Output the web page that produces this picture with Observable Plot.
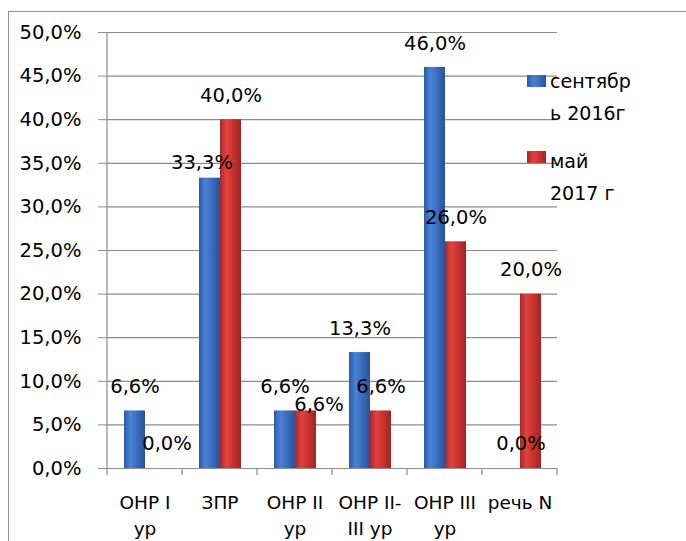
<!DOCTYPE html>
<html>
<head>
<meta charset="utf-8">
<script src="https://cdn.jsdelivr.net/npm/d3@7"></script>
<script src="https://cdn.jsdelivr.net/npm/@observablehq/plot@0.6"></script>
<style>
  html, body { margin: 0; padding: 0; background: #fff; overflow: hidden; }
  #wrap { position: relative; width: 686px; height: 541px; overflow: hidden; font-family: "DejaVu Sans", sans-serif; }
  #border { position: absolute; left: 8px; top: 11px; width: 700px; height: 560px; border: 1.5px solid #8f8f8f; box-sizing: border-box; }
  #chart { position: absolute; left: 0; top: 0; }
  .leg { position: absolute; left: 527px; font-size: 19px; line-height: 32px; color: #000; }
  .leg .sw { position: absolute; left: 0; width: 19px; height: 12px; }
  .leg .tx { position: absolute; left: 23px; white-space: nowrap; }
</style>
</head>
<body>
<div id="wrap">
  <div id="border"></div>
  <div id="chart"></div>
  <div id="legend"></div>
</div>
<script>
const categories = ["ОНР I\nур", "ЗПР", "ОНР II\nур", "ОНР II-\nIII ур", "ОНР III\nур", "речь N"];
const seriesNames = ["сентябрь 2016г", "май 2017 г"];
const sep2016 = [0.066, 0.333, 0.066, 0.133, 0.460, 0.0];
const may2017 = [0.0, 0.400, 0.066, 0.066, 0.260, 0.200];
const yTicks = [0, 0.05, 0.10, 0.15, 0.20, 0.25, 0.30, 0.35, 0.40, 0.45, 0.50];

const rows = [];
categories.forEach((c, i) => {
  rows.push({cat: c, series: seriesNames[0], value: sep2016[i]});
  rows.push({cat: c, series: seriesNames[1], value: may2017[i]});
});

const fmt = v => d3.format(".1%")(v).replace(".", ",");
const fillFor = s => s === seriesNames[0] ? "url(#gradBlue)" : "url(#gradRed)";

const isShiftRight = d => d.cat === categories[2] && d.series === seriesNames[1];
const isShiftLeft = d => d.cat === categories[1] && d.series === seriesNames[0];
const normal = rows.filter(d => d.value > 0 && !isShiftRight(d) && !isShiftLeft(d));
const zeros = rows.filter(d => d.value === 0);
const shiftedR = rows.filter(isShiftRight);
const shiftedL = rows.filter(isShiftLeft);

const FS = 19.5;
const chart = Plot.plot({
  width: 686,
  height: 541,
  marginLeft: 104,
  marginRight: 127,
  marginTop: 32,
  marginBottom: 73,
  style: {fontFamily: "DejaVu Sans, sans-serif", fontSize: FS + "px", color: "#000", background: "transparent", overflow: "visible"},
  fx: {domain: categories, padding: 0, axis: null},
  x: {domain: seriesNames, paddingInner: 0, paddingOuter: 0.72, axis: null},
  y: {domain: [0, 0.5], axis: null},
  marks: [
    Plot.gridY(yTicks, {stroke: "#8c8c8c", strokeOpacity: 1, strokeWidth: 1.2}),
    Plot.axisY({ticks: yTicks, tickSize: 9, tickPadding: 17, tickFormat: fmt, label: null, fontSize: FS, stroke: "#8c8c8c", strokeOpacity: 1, facetAnchor: "left"}),
    Plot.barY(rows, {fx: "cat", x: "series", y: "value", fill: d => fillFor(d.series)}),
    Plot.ruleY([0], {stroke: "#8c8c8c", strokeWidth: 1.2}),
    Plot.text(normal, {fx: "cat", x: "series", y: "value", text: d => fmt(d.value), dy: -24, fontSize: FS, fill: "#000"}),
    Plot.text(zeros, {fx: "cat", x: "series", y: "value", text: d => fmt(d.value), dy: -25, dx: 11, fontSize: FS, fill: "#000"}),
    Plot.text(shiftedR, {fx: "cat", x: "series", y: "value", text: d => fmt(d.value), dy: -6, dx: 13, fontSize: FS, fill: "#000"}),
    Plot.text(shiftedL, {fx: "cat", x: "series", y: "value", text: d => fmt(d.value), dy: -15, dx: -8, fontSize: FS, fill: "#000"}),
    Plot.text(categories, {fx: d => d, frameAnchor: "bottom", text: d => d, dy: 21, lineAnchor: "top", lineHeight: 1.45, fontSize: 18.5, fill: "#000"})
  ]
});

// gradients for cylinder-like bars
const svg = d3.select(chart);
const defs = svg.insert("defs", ":first-child");
function grad(id, stops) {
  const g = defs.append("linearGradient").attr("id", id).attr("x1", "0").attr("x2", "1").attr("y1", "0").attr("y2", "0");
  stops.forEach(([o, c]) => g.append("stop").attr("offset", o).attr("stop-color", c));
}
grad("gradBlue", [[0, "#2a5aa6"], [0.3, "#4a82d4"], [0.55, "#3d72c4"], [1, "#2a5298"]]);
grad("gradRed", [[0, "#a8282a"], [0.3, "#e0433f"], [0.55, "#cf3532"], [1, "#a02524"]]);

// y-axis line and category boundary ticks from the library's scales
const fx = chart.scale("fx");
const y = chart.scale("y");
const y0 = y.apply(0), yTop = y.apply(0.5);
const xs = categories.map(c => fx.apply(c));
xs.push(fx.apply(categories[categories.length - 1]) + fx.bandwidth);
const g = svg.append("g").attr("stroke", "#8c8c8c").attr("stroke-width", 1.2);
g.append("line").attr("x1", xs[0]).attr("x2", xs[0]).attr("y1", yTop).attr("y2", y0);
xs.forEach(x => g.append("line").attr("x1", x).attr("x2", x).attr("y1", y0).attr("y2", y0 + 7));

document.getElementById("chart").appendChild(chart);

// legend
const legendEl = document.getElementById("legend");
const legendItems = [
  {lines: ["сентябр", "ь 2016г"], bg: "linear-gradient(90deg,#2a5aa6,#4a82d4 35%,#3d72c4 60%,#2a5298)", top: 65, swTop: 10},
  {lines: ["май", "2017 г"], bg: "linear-gradient(90deg,#a8282a,#e0433f 35%,#cf3532 60%,#a02524)", top: 145, swTop: 6}
];
legendItems.forEach(item => {
  const d = document.createElement("div");
  d.className = "leg";
  d.style.top = item.top + "px";
  const sw = document.createElement("div");
  sw.className = "sw";
  sw.style.top = item.swTop + "px";
  sw.style.background = item.bg;
  d.appendChild(sw);
  const tx = document.createElement("div");
  tx.className = "tx";
  tx.innerHTML = item.lines.join("<br>");
  d.appendChild(tx);
  legendEl.appendChild(d);
});
</script>
</body>
</html>
